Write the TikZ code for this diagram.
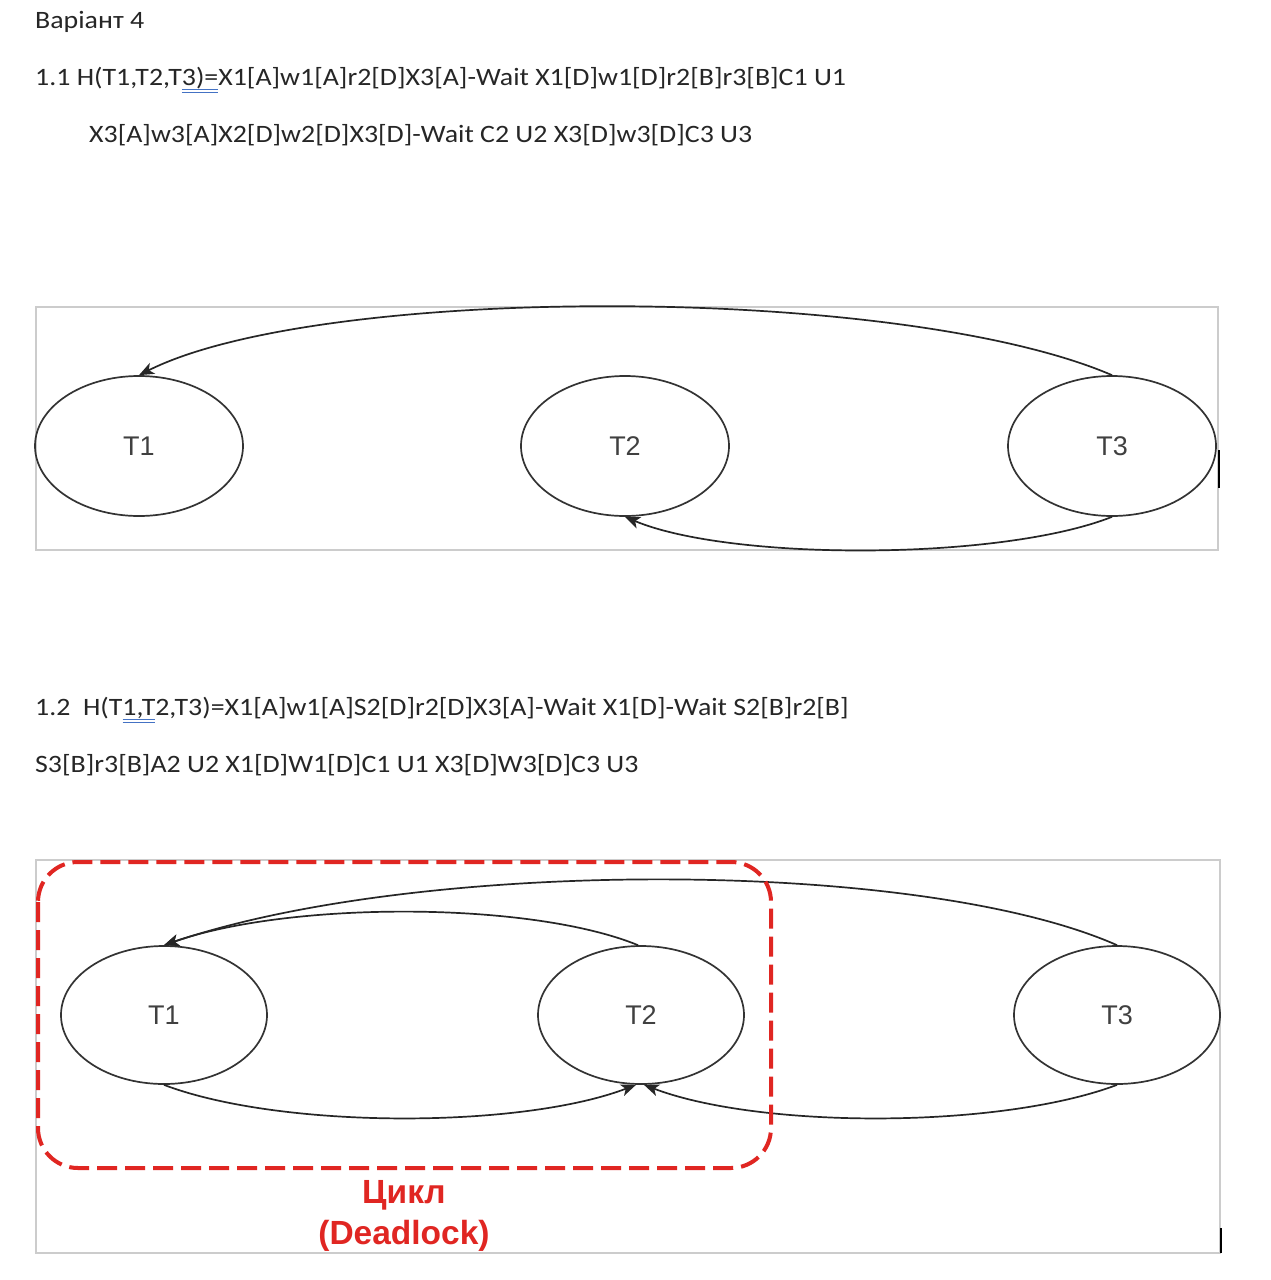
\documentclass[tikz,border=0pt]{standalone}
\usepackage{fontspec}
\setmainfont[FakeStretch=1.115]{Carlito}
\newfontfamily\arialf{Liberation Sans}
\usetikzlibrary{shapes.geometric,arrows.meta}
\definecolor{dlred}{RGB}{224,38,34}
\definecolor{ulblue}{RGB}{68,114,196}
\newsavebox\myulbox
\newcommand\spellul[1]{\sbox\myulbox{#1}\rlap{\color{ulblue}\rule[-5.1pt]{\wd\myulbox}{1.2pt}}\rlap{\color{ulblue}\rule[-8.1pt]{\wd\myulbox}{1.2pt}}\usebox\myulbox}
\begin{document}
\begin{tikzpicture}[x=1pt,y=-1pt,
  txt/.style={anchor=base west,inner sep=0pt,text=black!85,font=\fontsize{25}{30}\selectfont},
  frame/.style={draw=black!20,line width=1.5pt},
  proc/.style={ellipse,draw=black!80,line width=1.7pt,minimum width=208pt,minimum height=140pt,inner sep=0pt,font=\arialf\fontsize{27}{32}\selectfont,text=black!75},
  arr/.style={draw=black!85,line width=1.7pt,-{Stealth[length=15pt,width=12pt,inset=4pt]}},
  cycle box/.style={draw=dlred,line width=4pt,dash pattern=on 20pt off 8pt,rounded corners=40pt},
  redlabel/.style={text=dlred,font=\arialf\bfseries\fontsize{33.5}{40}\selectfont,inner sep=0pt,anchor=base},
  cursor/.style={draw=black,line width=2.2pt}]
\useasboundingbox (0,0) rectangle (1270,1280);
\fill[white] (0,0) rectangle (1270,1280);

% texts
\node[txt] (title) at (35,28) {Варіант 4};
\node[txt] (l1) at (35,85) {1.1 H(T1,T2,T\spellul{3)=}X1[A]w1[A]r2[D]X3[A]-Wait X1[D]w1[D]r2[B]r3[B]C1 U1};
\node[txt] (l2) at (89,142) {X3[A]w3[A]X2[D]w2[D]X3[D]-Wait C2 U2 X3[D]w3[D]C3 U3};
\node[txt] (l3) at (35,715) {1.2\ \ H(T\spellul{1,T}2,T3)=X1[A]w1[A]S2[D]r2[D]X3[A]-Wait X1[D]-Wait S2[B]r2[B]};
\node[txt] (l4) at (35,772) {S3[B]r3[B]A2 U2 X1[D]W1[D]C1 U1 X3[D]W3[D]C3 U3};

% diagram 1
\draw[frame] (36,307) rectangle (1218,550);
\node[proc] (a1) at (139,446) {T1};
\node[proc] (a2) at (625,446) {T2};
\node[proc] (a3) at (1112,446) {T3};
\draw[arr] (a3.north) .. controls (900,284) and (320,284) .. (a1.north);
\draw[arr] (a3.south) .. controls (1000,561) and (730,561) .. (a2.south);
\draw[cursor] (1219,450) -- (1219,488);

% diagram 2
\draw[frame] (36,860) rectangle (1220,1253);
\node[proc,minimum width=206pt,minimum height=138pt] (b1) at (164,1015) {T1};
\node[proc,minimum width=206pt,minimum height=138pt] (b2) at (641,1015) {T2};
\node[proc,minimum width=206pt,minimum height=138pt] (b3) at (1117,1015) {T3};
\draw[arr] (b3.north) .. controls (920,858) and (420,858) .. (b1.north);
\draw[arr] ([xshift=-3pt]b2.north) .. controls (530,901) and (290,901) .. (b1.north);
\draw[arr] (b1.south) .. controls (280,1129) and (520,1129) .. ([xshift=-5pt]b2.south);
\draw[arr] (b3.south) .. controls (1000,1129) and (760,1129) .. ([xshift=3pt]b2.south);
\draw[cursor] (1221,1228) -- (1221,1253);

% deadlock cycle
\draw[cycle box] (38,862) rectangle (771,1168);
\node[redlabel] (cyc) at (404,1203) {Цикл};
\node[redlabel] (dl) at (404,1244) {(Deadlock)};
\end{tikzpicture}
\end{document}
